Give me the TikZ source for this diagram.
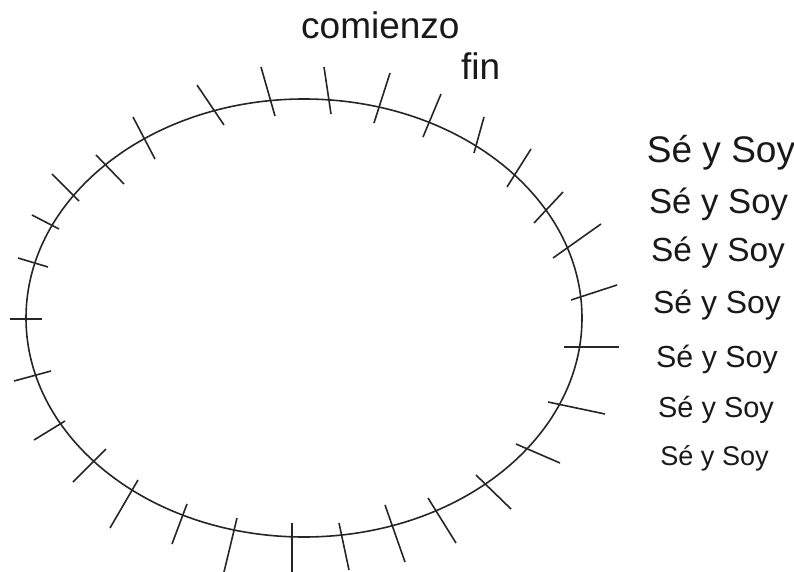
\documentclass[tikz,border=0pt]{standalone}
\usepackage{fontspec}
\setmainfont{Liberation Sans}
\begin{document}
\begin{tikzpicture}[x=1pt,y=-1pt,
  curve/.style={draw=black!85,line width=1.6pt},
  tick/.style={draw=black!85,line width=1.6pt},
  label/.style={inner sep=0pt,text=black!90}]
\useasboundingbox (0,0) rectangle (794,572);
\fill[white] (0,0) rectangle (794,572);
\path[curve] (304,318) ellipse [x radius=278, y radius=219];
% ticks
\foreach \a/\b in {
  {(18,258)}/{(48,267)}, {(32,215)}/{(59,229)}, {(52,174)}/{(79,201)},
  {(96,155)}/{(124,184)}, {(133,117)}/{(155,159)}, {(197,85)}/{(224,125)},
  {(261,67)}/{(275,116)}, {(324,67)}/{(331,114)}, {(390,73)}/{(374,123)},
  {(441,94)}/{(423,137)}, {(484,117)}/{(474,153)}, {(531,149)}/{(507,187)},
  {(563,192)}/{(534,223)}, {(601,224)}/{(553,258)}, {(617,285)}/{(571,300)},
  {(564,347)}/{(619,347)}, {(548,402)}/{(605,414)}, {(516,444)}/{(560,463)},
  {(476,475)}/{(511,509)}, {(428,498)}/{(456,543)}, {(385,505)}/{(405,562)},
  {(339,523)}/{(349,570)}, {(292,523)}/{(292,572)}, {(237,518)}/{(224,572)},
  {(187,504)}/{(172,544)}, {(138,480)}/{(110,528)}, {(106,449)}/{(73,482)},
  {(65,421)}/{(34,440)}, {(51,371)}/{(14,381)}, {(42,319)}/{(10,319)}}
  {\path[tick] \a -- \b;}
% texts
\node[label,anchor=base west,font=\fontsize{37}{40}\selectfont] (com) at (301,39) {comienzo};
\node[label,anchor=base west,font=\fontsize{37}{40}\selectfont] (fin) at (461,80) {fin};
\node[label,anchor=base,font=\fontsize{37}{40}\selectfont] (s1) at (721,163) {Sé y Soy};
\node[label,anchor=base,font=\fontsize{34.7}{38}\selectfont] (s2) at (718.5,213) {Sé y Soy};
\node[label,anchor=base,font=\fontsize{33.4}{36}\selectfont] (s3) at (718,261) {Sé y Soy};
\node[label,anchor=base,font=\fontsize{31.9}{35}\selectfont] (s4) at (717,313) {Sé y Soy};
\node[label,anchor=base,font=\fontsize{30.4}{33}\selectfont] (s5) at (717,367) {Sé y Soy};
\node[label,anchor=base,font=\fontsize{28.9}{31}\selectfont] (s6) at (716,417) {Sé y Soy};
\node[label,anchor=base,font=\fontsize{27.1}{30}\selectfont] (s7) at (714.5,465) {Sé y Soy};
\end{tikzpicture}
\end{document}
